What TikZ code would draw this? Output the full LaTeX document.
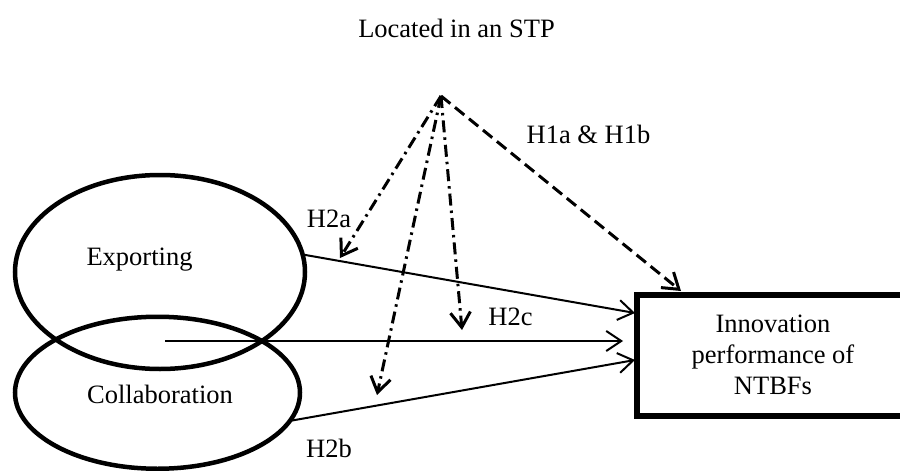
\documentclass[tikz,border=0pt]{standalone}
\usepackage{fontspec}
\setmainfont{Liberation Serif}
\usetikzlibrary{arrows.meta,shapes.geometric}
\begin{document}
\begin{tikzpicture}[x=1pt,y=-1pt,
  txt/.style={font=\fontsize{26.5}{31}\selectfont, inner sep=0pt, anchor=base},
  oval/.style={draw, ellipse, line width=4.5pt, inner sep=0pt, outer sep=0pt},
  barb/.style={-{Straight Barb[length=15pt,width=20pt]}},
  conn/.style={barb, line width=2pt},
  dashdot/.style={barb, line width=3pt, dash pattern=on 12pt off 5pt on 2.5pt off 5pt},
  dashline/.style={barb, line width=3pt, dash pattern=on 12pt off 6pt},
  outbox/.style={draw, line width=6pt, inner sep=0pt, outer sep=0pt, align=center,
    font=\fontsize{26.5}{31}\selectfont}
]
\useasboundingbox (0,0) rectangle (900,471);
\clip (0,0) rectangle (900,471);

\node[txt] (stp) at (456.5,37) {Located in an STP};

\node[oval, minimum width=290pt, minimum height=194pt] (exp) at (160,272) {};
\node[oval, minimum width=285pt, minimum height=152pt] (col) at (157.5,392.75) {};
\node[txt] (expt) at (139.5,265) {Exporting};
\node[txt] (colt) at (160,403) {Collaboration};

\node[outbox, minimum width=272pt, minimum height=121pt] (box) at (773,355)
  {Innovation\\performance of\\NTBFs};

\node[txt] (h2a) at (329,227) {H2a};
\node[txt] (h1) at (588.5,143) {H1a \& H1b};
\node[txt] (h2c) at (510.5,325) {H2c};
\node[txt] (h2b) at (329,457) {H2b};

\coordinate (apex) at (441,96);
\coordinate (a1) at (340,258);
\coordinate (a2) at (377,395);
\coordinate (a3) at (462,330);
\coordinate (a4) at (681,291);
\coordinate (mid) at (165,341);
\coordinate (t1) at (635,313);
\coordinate (t2) at (623,341);
\coordinate (t3) at (635,360);

\draw[conn] (exp.7) -- (t1);
\draw[conn] (mid) -- (t2);
\draw[conn] (col.-12) -- (t3);

\draw[dashdot] (apex) -- (a1);
\draw[dashdot] (apex) -- (a2);
\draw[dashdot] (apex) -- (a3);
\draw[dashline] (apex) -- (a4);
\end{tikzpicture}
\end{document}
